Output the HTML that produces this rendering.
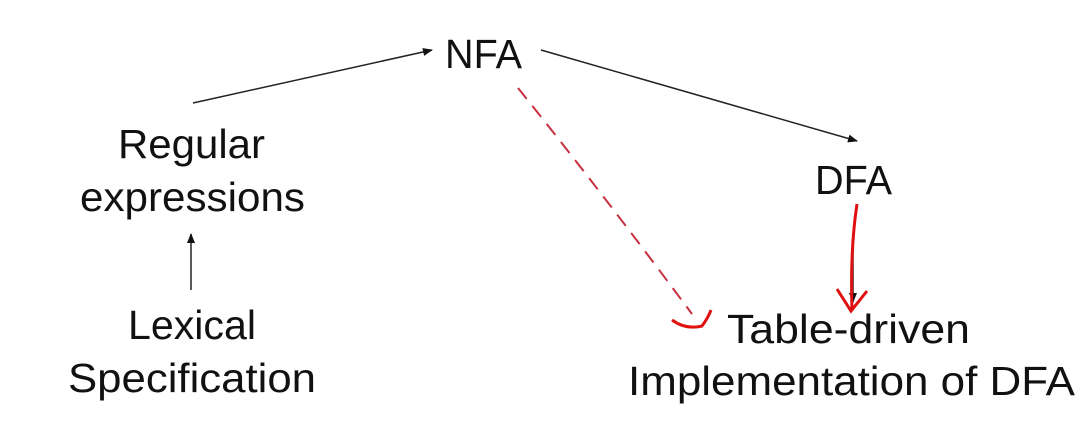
<!DOCTYPE html>
<html><head><style>
html,body{margin:0;padding:0;background:#fff;}
svg{display:block;}
text{font-family:"Liberation Sans",sans-serif;font-size:41px;fill:#111;}
</style></head><body>
<svg width="1091" height="446" viewBox="0 0 1091 446">
<defs>
<marker id="ah" markerWidth="10" markerHeight="8" refX="9" refY="4" orient="auto" markerUnits="userSpaceOnUse" viewBox="0 0 10 8">
<path d="M0,0 L10,4 L0,8 Z" fill="#111"/></marker>
</defs>
<text x="445" y="68" textLength="77" lengthAdjust="spacingAndGlyphs">NFA</text>
<text x="118" y="158" textLength="147" lengthAdjust="spacingAndGlyphs">Regular</text>
<text x="80" y="211" textLength="225" lengthAdjust="spacingAndGlyphs">expressions</text>
<text x="128" y="339" textLength="128" lengthAdjust="spacingAndGlyphs">Lexical</text>
<text x="68" y="392" textLength="248" lengthAdjust="spacingAndGlyphs">Specification</text>
<text x="815" y="194" textLength="77" lengthAdjust="spacingAndGlyphs">DFA</text>
<text x="727" y="343" textLength="243" lengthAdjust="spacingAndGlyphs">Table-driven</text>
<text x="628" y="395" textLength="447" lengthAdjust="spacingAndGlyphs">Implementation of DFA</text>
<line x1="193" y1="103" x2="432" y2="50" stroke="#222" stroke-width="1.5" marker-end="url(#ah)"/>
<line x1="541" y1="50" x2="857" y2="141" stroke="#222" stroke-width="1.5" marker-end="url(#ah)"/>
<line x1="191" y1="290" x2="191" y2="234" stroke="#222" stroke-width="1.5" marker-end="url(#ah)"/>
<line x1="853" y1="240" x2="853" y2="302" stroke="#222" stroke-width="1.5" marker-end="url(#ah)"/>
<path d="M857,204 Q850,250 852,310" stroke="#e01010" stroke-width="3" fill="none"/>
<path d="M837,289 L851,311 L867,291" stroke="#e01010" stroke-width="3" fill="none"/>
<path d="M518,88 Q600,190 692,314" stroke="#c83040" stroke-width="2" stroke-dasharray="14,9" fill="none"/>
<path d="M672,320 Q686,330 702,326 Q708,318 711,310" stroke="#e01010" stroke-width="3" fill="none"/>
</svg>
</body></html>
